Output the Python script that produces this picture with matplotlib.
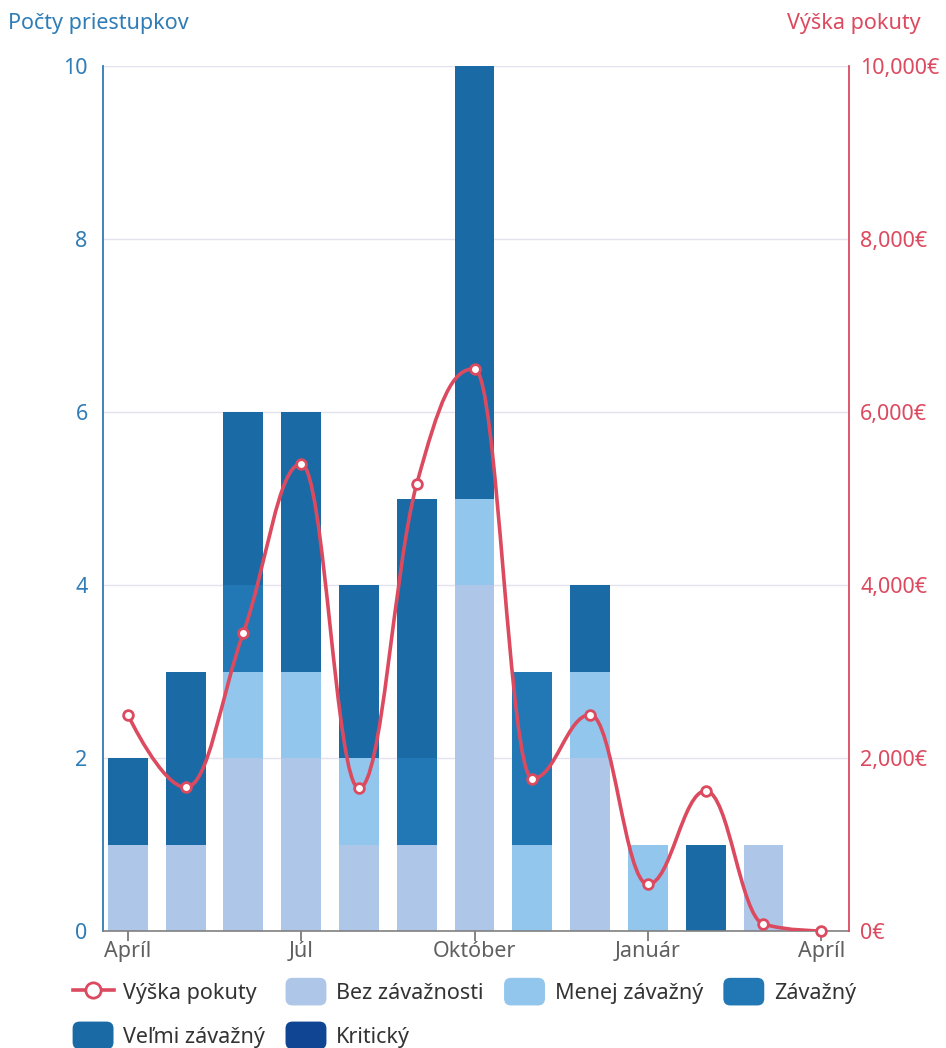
import numpy as np
import matplotlib
matplotlib.use('Agg')
import matplotlib.pyplot as plt
from matplotlib.path import Path
from matplotlib.patches import PathPatch, Patch, FancyBboxPatch
from matplotlib.lines import Line2D
from matplotlib.legend_handler import HandlerPatch
from matplotlib.ticker import FuncFormatter

plt.rcParams['font.family'] = ['Noto Sans', 'DejaVu Sans']

# data (Apríl .. Marec), pokuty ma o jeden bod viac (Apríl nasledujuceho roka)
mesiace = ['Apríl', 'Máj', 'Jún', 'Júl', 'August', 'September', 'Október',
           'November', 'December', 'Január', 'Február', 'Marec']
bez_zavaznosti = [1, 1, 2, 2, 1, 1, 4, 0, 2, 0, 0, 1]
menej_zavazny = [0, 0, 1, 1, 1, 0, 1, 1, 1, 1, 0, 0]
zavazny = [0, 0, 1, 0, 0, 1, 0, 2, 0, 0, 0, 0]
velmi_zavazny = [1, 2, 2, 3, 2, 3, 5, 0, 1, 0, 1, 0]
kriticky = [0, 0, 0, 0, 0, 0, 0, 0, 0, 0, 0, 0]
pokuty = [2500, 1660, 3450, 5400, 1650, 5170, 6500, 1760, 2500, 540, 1620, 80, 0]
tick_pos = [0, 3, 6, 9, 12]
tick_labels = ['Apríl', 'Júl', 'Október', 'Január', 'Apríl']

serie = [
    ('Bez závažnosti', bez_zavaznosti, '#aec7e8'),
    ('Menej závažný', menej_zavazny, '#92c6ec'),
    ('Závažný', zavazny, '#2178b4'),
    ('Veľmi závažný', velmi_zavazny, '#1a6aa6'),
    ('Kritický', kriticky, '#0f4592'),
]

MODRA = '#2f7cb6'
CERVENA = '#dc4a60'
FS = 15.5


def spline_path(xs, ys, smoothing=1.5):
    # hladka krivka cez body (styl highcharts spline)
    n = len(xs)
    denom = smoothing + 1
    right = [None] * n
    verts = [(xs[0], ys[0])]
    codes = [Path.MOVETO]
    for i in range(n):
        px, py = xs[i], ys[i]
        lcx, lcy = px, py
        if 0 < i < n - 1:
            lx, ly = xs[i - 1], ys[i - 1]
            nx_, ny = xs[i + 1], ys[i + 1]
            lcx = (smoothing * px + lx) / denom
            lcy = (smoothing * py + ly) / denom
            rcx = (smoothing * px + nx_) / denom
            rcy = (smoothing * py + ny) / denom
            corr = (rcy - lcy) * (rcx - px) / (rcx - lcx) + py - rcy
            lcy += corr
            rcy += corr
            if lcy > ly and lcy > py:
                lcy = max(ly, py); rcy = 2 * py - lcy
            elif lcy < ly and lcy < py:
                lcy = min(ly, py); rcy = 2 * py - lcy
            if rcy > ny and rcy > py:
                rcy = max(ny, py); lcy = 2 * py - rcy
            elif rcy < ny and rcy < py:
                rcy = min(ny, py); lcy = 2 * py - rcy
            right[i] = (rcx, rcy)
        if i > 0:
            prev = right[i - 1] if right[i - 1] else (xs[i - 1], ys[i - 1])
            verts += [prev, (lcx, lcy), (px, py)]
            codes += [Path.CURVE4] * 3
    return Path(verts, codes)


def zaobleny(legend, orig_handle, xdescent, ydescent, width, height, fontsize):
    return FancyBboxPatch((-xdescent, -ydescent - 2), width, height + 4,
                          boxstyle='round,pad=0,rounding_size=5')


fig = plt.figure(figsize=(9.46, 10.48), dpi=100)
ax = fig.add_axes([103 / 946, 1 - 931 / 1048, 746 / 946, 865 / 1048])
ax2 = ax.twinx()

x = np.arange(len(mesiace))
bottom = np.zeros(len(mesiace))
handles = {}
for nazov, hodnoty, farba in serie:
    ax.bar(x, hodnoty, bottom=bottom, width=0.69, color=farba, zorder=2)
    bottom += np.array(hodnoty)
    handles[nazov] = Patch(facecolor=farba, edgecolor='none', label=nazov)

ax.set_xlim(-0.43, 12.48)
ax.set_ylim(0, 10)
ax.set_yticks([0, 2, 4, 6, 8, 10])
ax.grid(axis='y', color='#e3e3f0', lw=1, zorder=0)
ax.set_axisbelow(True)
ax.set_xticks(tick_pos)
ax.set_xticklabels(tick_labels)
ax.tick_params(axis='x', colors='#707070', labelcolor='#606060', length=7,
               width=1.2, labelsize=FS, pad=0)
ax.tick_params(axis='y', length=0, labelcolor=MODRA, labelsize=FS, pad=11)
ax.spines['top'].set_visible(False)
ax.spines['right'].set_visible(False)
ax.spines['left'].set_color(MODRA)
ax.spines['left'].set_linewidth(1.3)
ax.spines['bottom'].set_color('#808080')
ax.spines['bottom'].set_linewidth(1.2)

xl = np.arange(len(pokuty))
ax2.add_patch(PathPatch(spline_path(xl, pokuty), facecolor='none',
                        edgecolor=CERVENA, lw=2.6, zorder=3))
ax2.plot(xl, pokuty, ls='none', marker='o', ms=7, mfc='white', mec=CERVENA,
         mew=2, zorder=4, clip_on=False)
ax2.set_ylim(0, 10000)
ax2.set_yticks([0, 2000, 4000, 6000, 8000, 10000])
ax2.yaxis.set_major_formatter(FuncFormatter(lambda v, p: f'{int(v):,}€'))
ax2.tick_params(axis='y', length=0, labelcolor=CERVENA, labelsize=FS, pad=8)
for s in ['top', 'left', 'bottom']:
    ax2.spines[s].set_visible(False)
ax2.spines['right'].set_color(CERVENA)
ax2.spines['right'].set_linewidth(1.3)

fig.text(8 / 946, 1 - 24 / 1048, 'Počty priestupkov', color=MODRA,
         fontsize=FS, ha='left', va='center')
fig.text(921 / 946, 1 - 24 / 1048, 'Výška pokuty', color=CERVENA,
         fontsize=FS, ha='right', va='center')

ciara = Line2D([], [], color=CERVENA, lw=2.6, marker='o', ms=11, mfc='white',
               mec=CERVENA, mew=2, label='Výška pokuty')
# poradie tak, aby legenda isla po riadkoch
poradie = [ciara, handles['Veľmi závažný'], handles['Bez závažnosti'],
           handles['Kritický'], handles['Menej závažný'], handles['Závažný']]
fig.legend(handles=poradie, labels=[h.get_label() for h in poradie],
           handler_map={Patch: HandlerPatch(patch_func=zaobleny)},
           loc='upper left', bbox_to_anchor=(64 / 946, 1 - 972 / 1048),
           ncol=4, frameon=False, fontsize=FS, handlelength=1.9,
           handleheight=1.2, handletextpad=0.45, columnspacing=0.95,
           labelspacing=0.95, labelcolor='#333333', borderaxespad=0)

fig.savefig('out.png', dpi=100)
